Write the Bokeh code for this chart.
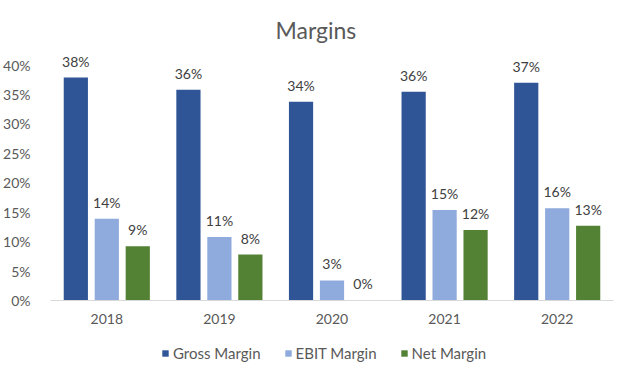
from bokeh.plotting import figure
from bokeh.models import (ColumnDataSource, FixedTicker, Legend, LegendItem,
                          Title, CustomJSTickFormatter, Range1d)
from bokeh.layouts import column
from bokeh.transform import dodge
from bokeh.embed import file_html
from bokeh.resources import INLINE

years = ["2018", "2019", "2020", "2021", "2022"]
gross = [37.9, 35.8, 33.8, 35.5, 37.0]
ebit = [13.9, 10.8, 3.4, 15.4, 15.7]
net = [9.2, 7.8, 0.1, 12.0, 12.7]
series_names = ["Gross Margin", "EBIT Margin", "Net Margin"]
y_ticks = [0, 5, 10, 15, 20, 25, 30, 35, 40]

colors = ["#2F5597", "#8FAADC", "#548235"]
FONT = "Lato"

src = ColumnDataSource(dict(
    years=years, gross=gross, ebit=ebit, net=net,
    gross_l=[f"{round(v)}%" for v in gross],
    ebit_l=[f"{round(v)}%" for v in ebit],
    net_l=[f"{round(v)}%" for v in net],
))

offsets = [-0.275, 0.0, 0.275]
cols = ["gross", "ebit", "net"]

# ---- main chart ----
p = figure(frame_width=563, frame_height=253, x_range=years,
           y_range=Range1d(0, 43),
           output_backend="svg", toolbar_location=None,
           min_border_left=47, min_border_right=14, min_border_top=40,
           min_border_bottom=36)
p.outline_line_color = None
p.xgrid.grid_line_color = None
p.ygrid.grid_line_color = None
p.x_range.range_padding = 0

for col, off, c in zip(cols, offsets, colors):
    p.vbar(x=dodge("years", off, range=p.x_range), top=col, width=0.215,
           source=src, fill_color=c, line_color=None)
    p.text(x=dodge("years", off, range=p.x_range), y=col, text=col + "_l",
           source=src, text_align="center", text_baseline="bottom",
           y_offset=-8, text_font_size="14px", text_color="#404040",
           text_font={"value": FONT})

p.yaxis.ticker = FixedTicker(ticks=y_ticks)
p.yaxis.formatter = CustomJSTickFormatter(code="return tick + '%';")
p.yaxis.axis_line_color = None
p.yaxis.major_tick_line_color = None
p.yaxis.minor_tick_line_color = None
p.yaxis.major_label_standoff = 14
p.yaxis.major_label_text_font_size = "14px"
p.yaxis.major_label_text_color = "#595959"
p.yaxis.major_label_text_font = FONT

p.xaxis.axis_line_color = "#D9D9D9"
p.xaxis.major_tick_line_color = None
p.xaxis.minor_tick_line_color = None
p.xaxis.major_label_standoff = 7
p.xaxis.major_label_text_font_size = "14px"
p.xaxis.major_label_text_color = "#595959"
p.xaxis.major_label_text_font = FONT

t = Title(text="Margins", align="left", offset=225, text_font_size="23px",
          text_font_style="normal", text_color="#595959", text_font=FONT,
          standoff=8, padding=dict(left=0, right=0, top=9, bottom=0))
p.add_layout(t, "above")

# ---- legend strip ----
lg = figure(width=624, height=37, x_range=p.x_range, y_range=Range1d(-10, -5),
            output_backend="svg", toolbar_location=None,
            min_border=0)
lg.axis.visible = False
lg.grid.grid_line_color = None
lg.outline_line_color = None
items = []
for col, off, c, name in zip(cols, offsets, colors, series_names):
    r = lg.vbar(x=dodge("years", off, range=lg.x_range), top=col, width=0.215,
                source=src, fill_color=c, line_color=None, visible=False)
    items.append(LegendItem(label=name, renderers=[r]))
legend = Legend(items=items, orientation="horizontal", location=(111, 11),
                glyph_width=8, glyph_height=8, label_standoff=4, spacing=23,
                padding=0, margin=0, border_line_color=None,
                background_fill_alpha=0, label_height=16,
                inactive_fill_alpha=0,
                label_text_font_size="15px", label_text_color="#595959",
                label_text_font=FONT)
lg.add_layout(legend)

layout = column(p, lg, spacing=0)
open("out.html", "w").write(file_html(layout, INLINE))
